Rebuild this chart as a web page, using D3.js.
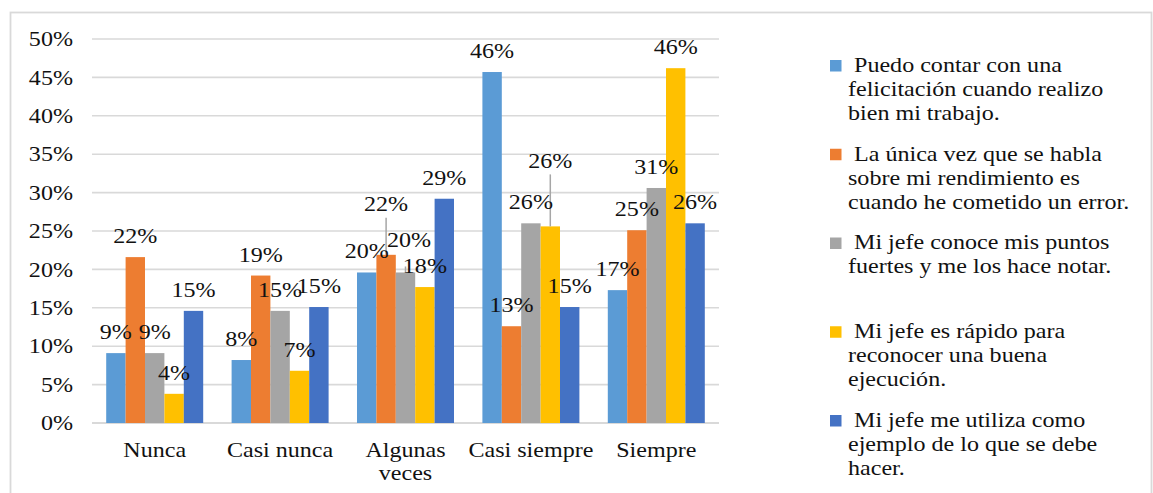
<!DOCTYPE html>
<html lang="es">
<head>
<meta charset="utf-8">
<script src="https://cdn.jsdelivr.net/npm/d3@7"></script>
<style>
  html, body { margin: 0; padding: 0; background: #fff; }
  svg { display: block; }
  text { font-family: "Liberation Serif", "Times New Roman", serif; fill: #111; }
</style>
</head>
<body>
<svg id="chart" width="1153" height="493"></svg>
<script>
// Response categories (x axis)
const categories = ["Nunca", "Casi nunca", "Algunas veces", "Casi siempre", "Siempre"];

// Survey statements (legend), one entry per series, already split into lines
const seriesNames = [
  ["Puedo contar con una", "felicitación cuando realizo", "bien mi trabajo."],
  ["La única vez que se habla", "sobre mi rendimiento es", "cuando he cometido un error."],
  ["Mi jefe conoce mis puntos", "fuertes y me los hace notar."],
  ["Mi jefe es rápido para", "reconocer una buena", "ejecución."],
  ["Mi jefe me utiliza como", "ejemplo de lo que se debe", "hacer."]
];

// Share of answers per statement, in category order
const felicitacion = [0.091, 0.082, 0.196, 0.457, 0.173];
const soloError    = [0.216, 0.192, 0.219, 0.126, 0.251];
const puntosFuertes = [0.091, 0.146, 0.196, 0.260, 0.306];
const rapido       = [0.038, 0.068, 0.177, 0.256, 0.462];
const ejemplo      = [0.146, 0.151, 0.292, 0.151, 0.260];
const seriesValues = [felicitacion, soloError, puntosFuertes, rapido, ejemplo];

// Y axis ticks
const yTicks = [0, 0.05, 0.10, 0.15, 0.20, 0.25, 0.30, 0.35, 0.40, 0.45, 0.50];

const colors = ["#5B9BD5", "#ED7D31", "#A5A5A5", "#FFC000", "#4472C4"];

// Layout
const plot = { left: 92, right: 719, top: 39, bottom: 423 };
const fontSize = 21.5;
const stretchX = 1.12;          // the serif face is drawn slightly wide
const labelLift = 14;           // baseline of a value label above its bar top
// Value labels that were moved off their bar (category index, series index);
// "reach" is how far the leader line rises above the bar top
const labelMoves = {
  "2-1": { dx: 0, dy: -30, reach: 37 },
  "2-2": { dx: 3.5, dy: -11, reach: 6 },
  "3-3": { dx: 0, dy: -44, reach: 52 }
};

const svg = d3.select("#chart");
const fmt = d3.format(".0%");

// Stretch a text element horizontally around its own x position
function widen(sel) {
  sel.attr("transform", function () {
    const x = +this.getAttribute("x") || 0;
    return `matrix(${stretchX},0,0,1,${x * (1 - stretchX)},0)`;
  });
}

// Outer frame
svg.append("rect")
  .attr("x", 10.5).attr("y", 12.5)
  .attr("width", 1141).attr("height", 500)
  .attr("fill", "none")
  .attr("stroke", "#d9d9d9")
  .attr("stroke-width", 1.8);

const x0 = d3.scaleBand()
  .domain(categories)
  .range([plot.left, plot.right])
  .paddingInner(0.2265)
  .paddingOuter(0.11325);

const x1 = d3.scaleBand()
  .domain(d3.range(seriesValues.length))
  .range([0, x0.bandwidth()]);

const y = d3.scaleLinear()
  .domain([0, 0.5])
  .range([plot.bottom, plot.top]);

// Gridlines
svg.append("g")
  .selectAll("line")
  .data(yTicks)
  .join("line")
  .attr("x1", plot.left).attr("x2", plot.right)
  .attr("y1", d => y(d)).attr("y2", d => y(d))
  .attr("stroke", "#d9d9d9")
  .attr("stroke-width", d => d === 0 ? 2 : 1.6);

// Y tick labels
svg.append("g")
  .selectAll("text")
  .data(yTicks)
  .join("text")
  .attr("x", 73)
  .attr("y", d => y(d) + 7.2)
  .attr("text-anchor", "end")
  .attr("font-size", fontSize)
  .text(d => fmt(d))
  .call(widen);

// Bars
const cells = [];
categories.forEach((c, ci) => {
  seriesValues.forEach((vals, si) => {
    cells.push({ ci, si, cat: c, value: vals[ci] });
  });
});

svg.append("g")
  .selectAll("rect")
  .data(cells)
  .join("rect")
  .attr("x", d => x0(d.cat) + x1(d.si))
  .attr("y", d => y(d.value))
  .attr("width", x1.bandwidth())
  .attr("height", d => y(0) - y(d.value))
  .attr("fill", d => colors[d.si]);

// Leader lines for labels moved away from their bars
svg.append("g")
  .selectAll("line")
  .data(cells.filter(d => labelMoves[`${d.ci}-${d.si}`]))
  .join("line")
  .attr("x1", d => x0(d.cat) + x1(d.si) + x1.bandwidth() / 2)
  .attr("x2", d => x0(d.cat) + x1(d.si) + x1.bandwidth() / 2)
  .attr("y1", d => y(d.value) - labelMoves[`${d.ci}-${d.si}`].reach)
  .attr("y2", d => y(d.value))
  .attr("stroke", "#a6a6a6")
  .attr("stroke-width", 1.5);

// Value labels
svg.append("g")
  .selectAll("text")
  .data(cells)
  .join("text")
  .attr("x", d => {
    const m = labelMoves[`${d.ci}-${d.si}`];
    return x0(d.cat) + x1(d.si) + x1.bandwidth() / 2 + (m ? m.dx : 0);
  })
  .attr("y", d => {
    const m = labelMoves[`${d.ci}-${d.si}`];
    return y(d.value) - labelLift + (m ? m.dy : 0);
  })
  .attr("text-anchor", "middle")
  .attr("font-size", fontSize)
  .text(d => fmt(d.value))
  .call(widen);

// Category labels, wrapped when wider than their slot
const catG = svg.append("g");
categories.forEach(c => {
  const cx = x0(c) + x0.bandwidth() / 2;
  const t = catG.append("text")
    .attr("x", cx).attr("y", 457)
    .attr("text-anchor", "middle")
    .attr("font-size", fontSize)
    .text(c);
  const w = t.node().getComputedTextLength() * stretchX;
  if (w > x0.step() + 4) {
    const words = c.split(" ");
    t.text(null);
    words.forEach((wd, i) => {
      t.append("tspan").attr("x", cx).attr("y", 457 + i * 23.5).text(wd);
    });
  }
  widen(t);
});

// Legend
const legend = svg.append("g");
seriesNames.forEach((lines, i) => {
  const base = 72 + i * 88.75;
  legend.append("rect")
    .attr("x", 830).attr("y", base - 12)
    .attr("width", 11.5).attr("height", 11.5)
    .attr("fill", colors[i]);
  lines.forEach((ln, j) => {
    legend.append("text")
      .attr("x", 848)
      .attr("y", base + j * 24)
      .attr("font-size", fontSize)
      .attr("xml:space", "preserve")
      .text(j === 0 ? "\u00A0" + ln : ln)
      .call(widen);
  });
});
</script>
</body>
</html>
